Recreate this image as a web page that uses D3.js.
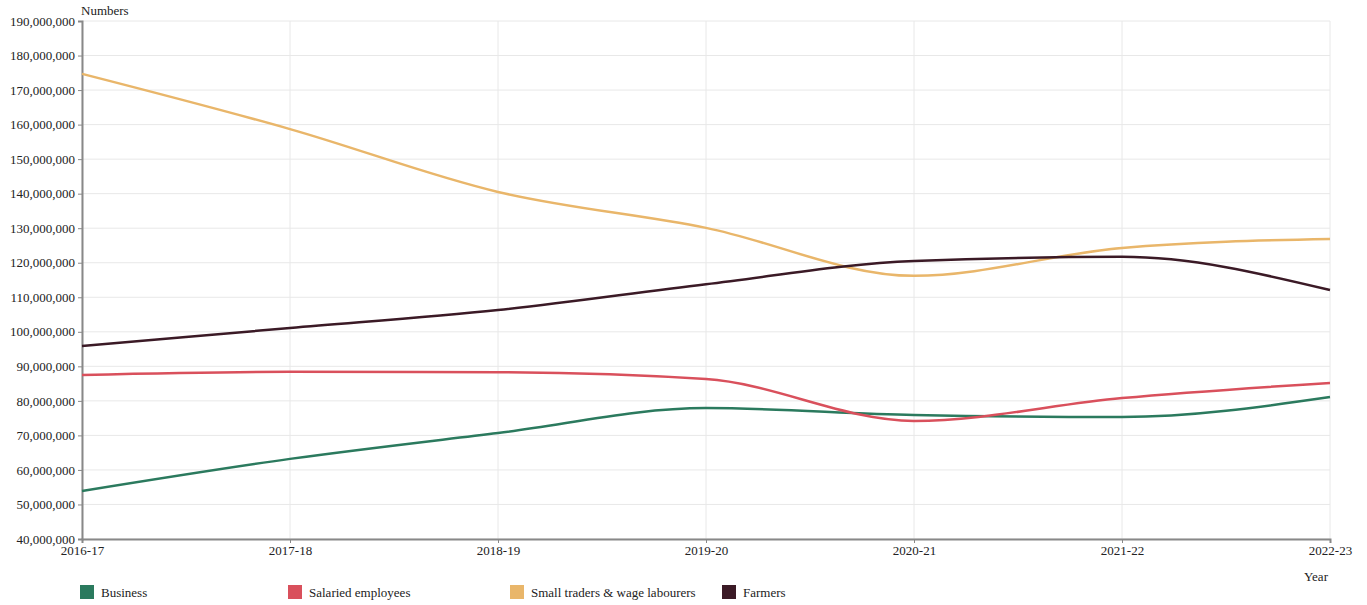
<!DOCTYPE html>
<html>
<head>
<meta charset="utf-8">
<script src="https://cdn.jsdelivr.net/npm/d3@7"></script>
<style>
  html, body { margin: 0; padding: 0; background: #fff; }
  svg { display: block; font-family: "Liberation Serif", "DejaVu Serif", serif; }
</style>
</head>
<body>
<svg id="chart" width="1367" height="605"></svg>
<script>
const years = ["2016-17", "2017-18", "2018-19", "2019-20", "2020-21", "2021-22", "2022-23"];
const business = [53900000, 63200000, 70700000, 77900000, 75900000, 75300000, 81100000];
const salaried = [87500000, 88400000, 88300000, 86300000, 74200000, 80800000, 85200000];
const smallTraders = [174700000, 158700000, 140500000, 130100000, 116200000, 124300000, 126900000];
const farmers = [95900000, 101100000, 106300000, 113800000, 120500000, 121700000, 112100000];
const seriesNames = ["Business", "Salaried employees", "Small traders & wage labourers", "Farmers"];
const seriesColors = ["#2b7a5e", "#d9505c", "#e9b66a", "#3b1a26"];
const yTicks = [40000000, 50000000, 60000000, 70000000, 80000000, 90000000, 100000000, 110000000, 120000000, 130000000, 140000000, 150000000, 160000000, 170000000, 180000000, 190000000];

const seriesValues = [business, salaried, smallTraders, farmers];
const svg = d3.select("#chart");
const mLeft = 82, mRight = 1330, mTop = 21, mBottom = 539;
const fs = "13px";

const x = d3.scalePoint().domain(years).range([mLeft, mRight]);
const y = d3.scaleLinear().domain([40000000, 190000000]).range([mBottom, mTop]);

// grid
svg.append("g").selectAll("line").data(yTicks).join("line")
  .attr("x1", mLeft).attr("x2", mRight)
  .attr("y1", d => y(d)).attr("y2", d => y(d))
  .attr("stroke", "#e8e8e8").attr("stroke-width", 1);
svg.append("g").selectAll("line").data(years).join("line")
  .attr("x1", d => x(d)).attr("x2", d => x(d))
  .attr("y1", mTop).attr("y2", mBottom)
  .attr("stroke", "#e8e8e8").attr("stroke-width", 1);

// axes
const fmt = d3.format(",");
const yAxis = svg.append("g").attr("transform", `translate(${mLeft},0)`)
  .call(d3.axisLeft(y).tickValues(yTicks).tickFormat(fmt).tickSize(4).tickPadding(3));
const xAxis = svg.append("g").attr("transform", `translate(0,${mBottom})`)
  .call(d3.axisBottom(x).tickSize(4).tickPadding(3));
[yAxis, xAxis].forEach(a => {
  a.select(".domain").attr("stroke", "#888").attr("stroke-width", 2);
  a.selectAll(".tick line").attr("stroke", "#888");
  a.selectAll("text").attr("fill", "#222").style("font-size", fs)
    .style("font-family", '"Liberation Serif", serif');
});

svg.append("text").attr("x", mLeft - 1).attr("y", 15).text("Numbers")
  .attr("fill", "#222").style("font-size", fs);
svg.append("text").attr("x", 1304).attr("y", 581).text("Year")
  .attr("fill", "#222").style("font-size", fs);

// lines
const line = d3.line().x((d, i) => x(years[i])).y(d => y(d)).curve(d3.curveMonotoneX);
svg.append("g").selectAll("path").data(seriesValues).join("path")
  .attr("d", d => line(d))
  .attr("fill", "none")
  .attr("stroke", (d, i) => seriesColors[i])
  .attr("stroke-width", 2.5);

// legend
const legendX = [80, 288, 510, 722];
const lg = svg.append("g").selectAll("g").data(seriesNames).join("g")
  .attr("transform", (d, i) => `translate(${legendX[i]},585)`);
lg.append("rect").attr("width", 14).attr("height", 14).attr("fill", (d, i) => seriesColors[i]);
lg.append("text").attr("x", 21).attr("y", 12).text(d => d)
  .attr("fill", "#222").style("font-size", fs);
</script>
</body>
</html>
